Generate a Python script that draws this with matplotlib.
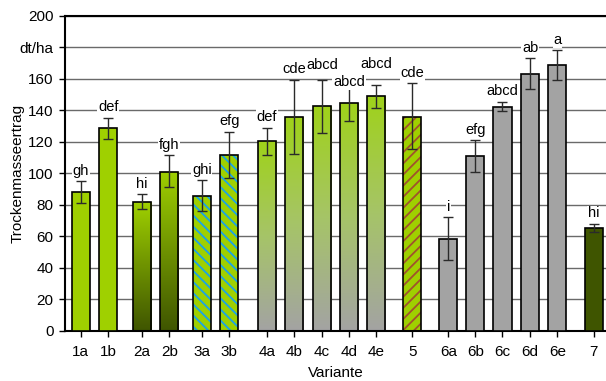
import numpy as np
import matplotlib
matplotlib.use('Agg')
import matplotlib.pyplot as plt
from matplotlib.colors import LinearSegmentedColormap

plt.rcParams['font.family'] = ['Liberation Sans', 'DejaVu Sans']
plt.rcParams['hatch.linewidth'] = 1.3

# data
variants = ['1a', '1b', '2a', '2b', '3a', '3b', '4a', '4b', '4c', '4d', '4e',
            '5', '6a', '6b', '6c', '6d', '6e', '7']
groups = ['1', '1', '2', '2', '3', '3', '4', '4', '4', '4', '4',
          '5', '6', '6', '6', '6', '6', '7']
means = [88, 128.5, 81.7, 101, 85.7, 111.6, 120.2, 135.5, 142.5, 144.6, 149,
         135.9, 58.2, 110.9, 142.2, 163.2, 168.5, 65.4]
err_low = [80.9, 121.9, 77.1, 91.4, 75.8, 96.8, 111.8, 112.2, 125.7, 132.9, 141.4,
           115.4, 44.7, 100.8, 139.3, 153.3, 159.2, 62.7]
err_high = [95, 135.2, 86.8, 111.4, 95.7, 126.2, 128.9, 159.2, 159.2, 156.6, 156.2,
            157.1, 72, 121.1, 145.4, 173.1, 178, 67.9]
letters = ['gh', 'def', 'hi', 'fgh', 'ghi', 'efg', 'def', 'cde', 'abcd', 'abcd', 'abcd',
           'cde', 'i', 'efg', 'abcd', 'ab', 'a', 'hi']

# x positions of the categories (uneven gaps between groups)
xpos = [0, 1, 2.24, 3.24, 4.43, 5.43, 6.81, 7.81, 8.83, 9.82, 10.81,
        12.14, 13.46, 14.45, 15.44, 16.45, 17.45, 18.78]

yticks = [0, 20, 40, 60, 80, 100, 120, 140, 160, 180, 200]
ytick_labels = ['0', '20', '40', '60', '80', '100', '120', '140', '160', 'dt/ha', '200']

green = '#9fd000'
dark_olive = '#3f5500'
gray = '#a3a3a3'
blue = '#1aa3e8'
brown = '#a0522d'

grad2 = LinearSegmentedColormap.from_list('g2', [dark_olive, '#6e9200', green])
grad4 = LinearSegmentedColormap.from_list('g4', [gray, '#a6c468', '#9fd21a'])

# letter label tweaks (points above the default position)
label_shift = {8: 3, 9: -6, 10: 7}

fig = plt.figure(figsize=(6.06, 3.81), dpi=100)
ax = fig.add_axes([0.107, 0.132, 0.893, 0.827])

width = 0.66
edge_lw = 1.2
grad_img = np.linspace(0, 1, 256).reshape(-1, 1)

for i, (x, m, g) in enumerate(zip(xpos, means, groups)):
    if g in ('2', '4'):
        bar = ax.bar(x, m, width, color='none', edgecolor='black', linewidth=edge_lw, zorder=3)[0]
        cmap = grad2 if g == '2' else grad4
        im = ax.imshow(grad_img, cmap=cmap, origin='lower', aspect='auto',
                       extent=[x - width / 2, x + width / 2, 0, m], zorder=2)
        im.set_clip_path(bar)
    elif g in ('3', '5'):
        ax.bar(x, m, width, color=green, linewidth=0, zorder=2)
        hcol = blue if g == '3' else brown
        hatch = '\\\\\\' if g == '3' else '///'
        ax.bar(x, m, width, fill=False, edgecolor=hcol, hatch=hatch, linewidth=0, zorder=2.5)
        ax.bar(x, m, width, fill=False, edgecolor='black', linewidth=edge_lw, zorder=3)
    else:
        col = {'1': green, '6': gray, '7': dark_olive}[g]
        ax.bar(x, m, width, color=col, edgecolor='black', linewidth=edge_lw, zorder=3)

means_a = np.array(means)
yerr = [means_a - np.array(err_low), np.array(err_high) - means_a]
ax.errorbar(xpos, means, yerr=yerr, fmt='none', ecolor='#2a2a2a', elinewidth=1,
            capsize=3.5, capthick=1, zorder=4)

for i, (x, top, lab) in enumerate(zip(xpos, err_high, letters)):
    ax.annotate(lab, (x, top), xytext=(0, 7.5 + label_shift.get(i, 0)),
                textcoords='offset points', ha='center', va='center', fontsize=10.5,
                bbox=dict(facecolor='white', edgecolor='none', pad=0.5), zorder=5)

ax.set_xlim(-0.586, 19.23)
ax.set_ylim(0, 200)
ax.set_xticks(xpos)
ax.set_xticklabels(variants)
ax.set_yticks(yticks)
ax.set_yticklabels(ytick_labels)
ax.tick_params(axis='both', labelsize=11, length=4, width=1, direction='out', pad=4)
ax.tick_params(axis='x', pad=6)

ax.yaxis.grid(True, color='#6a6a6a', linewidth=1.0)
ax.set_axisbelow(True)

for s in ['left', 'bottom', 'top']:
    ax.spines[s].set_linewidth(1.5)
    ax.spines[s].set_color('black')
ax.spines['right'].set_visible(False)

ax.set_xlabel('Variante', fontsize=11)
ax.set_ylabel('Trockenmasseertrag', fontsize=11)
ax.xaxis.set_label_coords(0.5, -0.134)
ax.xaxis.label.set_va('center')
ax.yaxis.set_label_coords(-0.087, 0.5)
ax.yaxis.label.set_va('center')

fig.savefig('out.png', dpi=100)
